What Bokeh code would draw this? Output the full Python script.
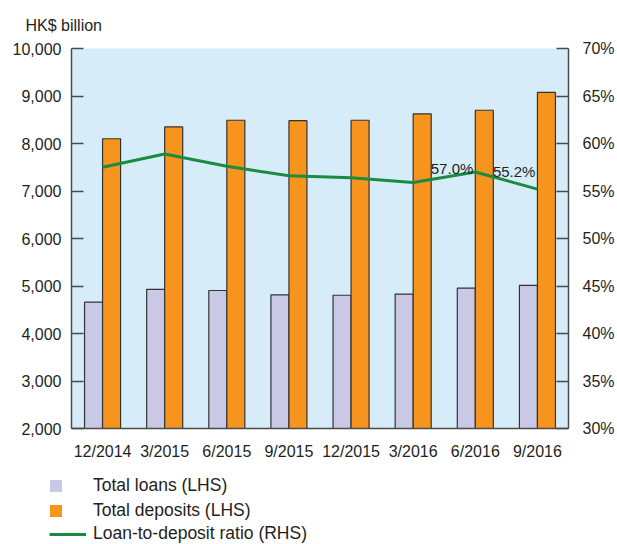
from bokeh.plotting import figure
from bokeh.layouts import column, row
from bokeh.models import (ColumnDataSource, FactorRange, Range1d, LinearAxis,
                          NumeralTickFormatter, PrintfTickFormatter, FixedTicker,
                          Legend, LegendItem)
from bokeh.transform import dodge
from bokeh.core.properties import value
from bokeh.embed import file_html
from bokeh.resources import INLINE

dates = ["12/2014", "3/2015", "6/2015", "9/2015", "12/2015", "3/2016", "6/2016", "9/2016"]
loans = [4660, 4930, 4905, 4815, 4805, 4830, 4955, 5015]
deposits = [8100, 8350, 8490, 8480, 8490, 8625, 8700, 9075]
ratio = [57.5, 58.9, 57.6, 56.6, 56.4, 55.9, 57.0, 55.2]
left_ticks = [2000, 3000, 4000, 5000, 6000, 7000, 8000, 9000, 10000]
right_ticks = [30, 35, 40, 45, 50, 55, 60, 65, 70]

FONT = "Liberation Sans"
TXT = "#231F20"
AX = "#4A4A4A"
LOAN_C = "#C9C9E5"
DEP_C = "#F7941D"
LINE_C = "#1B8A43"

src = ColumnDataSource(dict(date=dates, loans=loans, deposits=deposits, ratio=ratio))

p = figure(width=617, height=464, x_range=FactorRange(*dates), y_range=Range1d(2000, 10000),
           output_backend="svg", toolbar_location=None,
           min_border_left=71, min_border_right=48, min_border_top=48, min_border_bottom=36)
p.extra_y_ranges = {"ratio": Range1d(30, 70)}
p.background_fill_color = "#D6EDF9"
p.border_fill_color = "white"
p.outline_line_color = None
p.grid.visible = False

p.title.text = "HK$ billion"
p.title.align = "left"
p.title.offset = -46
p.title.standoff = 29
p.title.text_font = FONT
p.title.text_font_size = "16px"
p.title.text_font_style = "normal"
p.title.text_color = TXT

bw = 0.29
p.vbar(x=dodge("date", -bw / 2, range=p.x_range), top="loans", bottom=2000, width=bw, source=src,
       fill_color=LOAN_C, line_color="#333333", line_width=1.2)
p.vbar(x=dodge("date", bw / 2, range=p.x_range), top="deposits", bottom=2000, width=bw, source=src,
       fill_color=DEP_C, line_color="#333333", line_width=1.2)
p.line(x="date", y="ratio", source=src, y_range_name="ratio", line_color=LINE_C, line_width=3)

# value labels for the last two ratio points
lab1 = ColumnDataSource(dict(x=[dates[6]], y=[ratio[6]], t=["%.1f%%" % ratio[6]]))
lab2 = ColumnDataSource(dict(x=[dates[7]], y=[ratio[7]], t=["%.1f%%" % ratio[7]]))
for s, yo in ((lab1, -4), (lab2, -18)):
    p.text(x="x", y="y", text="t", source=s, y_range_name="ratio", text_align="right",
           text_baseline="alphabetic", x_offset=-2, y_offset=yo, text_color=TXT,
           text_font=value(FONT), text_font_size="15px")

# axes
ya = p.yaxis[0]
ya.ticker = FixedTicker(ticks=left_ticks)
ya.formatter = NumeralTickFormatter(format="0,0")
ra = LinearAxis(y_range_name="ratio", ticker=FixedTicker(ticks=right_ticks),
                formatter=PrintfTickFormatter(format="%d%%"))
p.add_layout(ra, "right")
for a in (ya, ra):
    a.major_tick_in = 12
    a.major_tick_out = 0
    a.minor_tick_line_color = None
    a.major_tick_line_color = AX
    a.major_tick_line_width = 1.5
    a.axis_line_color = AX
    a.axis_line_width = 1.5
    a.major_label_text_font = FONT
    a.major_label_text_font_size = "16px"
    a.major_label_text_color = TXT
ya.major_label_standoff = 10
ra.major_label_standoff = 14

xa = p.xaxis[0]
xa.major_tick_in = 0
xa.major_tick_out = 0
xa.axis_line_color = AX
xa.axis_line_width = 1.5
xa.major_label_text_font = FONT
xa.major_label_text_font_size = "16px"
xa.major_label_text_color = TXT
xa.major_label_standoff = 14

# legend panel below the chart
lg = figure(width=617, height=80, x_range=Range1d(0, 1), y_range=Range1d(0, 1),
            output_backend="svg", toolbar_location=None, x_axis_type=None, y_axis_type=None,
            min_border_left=0, min_border_right=0, min_border_top=0, min_border_bottom=0)
lg.outline_line_color = None
lg.grid.visible = False
d_loans = lg.vbar(x=[-5], top=[-5], width=0.1, fill_color=LOAN_C, line_color=None)
d_dep = lg.vbar(x=[-5], top=[-5], width=0.1, fill_color=DEP_C, line_color=None)
d_line = lg.line(x=[-5, -4], y=[-5, -5], line_color=LINE_C, line_width=3)

common = dict(padding=0, margin=0, border_line_color=None, background_fill_alpha=0,
              label_text_font=FONT, label_text_font_size="17.5px", label_text_color=TXT,
              label_height=20, spacing=4)
leg1 = Legend(items=[LegendItem(label="Total loans (LHS)", renderers=[d_loans]),
                     LegendItem(label="Total deposits (LHS)", renderers=[d_dep])],
              location=(48, 23), glyph_width=15, glyph_height=15, label_standoff=30, **common)
leg2 = Legend(items=[LegendItem(label="Loan-to-deposit ratio (RHS)", renderers=[d_line])],
              location=(49, 0), glyph_width=37, glyph_height=12, label_standoff=7, **common)
lg.add_layout(leg1)
lg.add_layout(leg2)

layout = column(p, row(lg, spacing=0), spacing=0)
open("out.html", "w").write(file_html(layout, INLINE))
